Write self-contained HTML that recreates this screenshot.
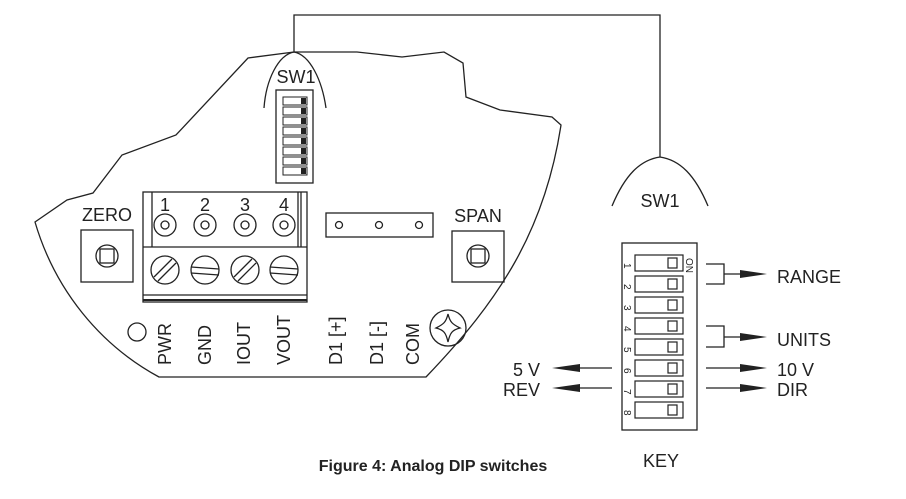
<!DOCTYPE html>
<html><head><style>
html,body{margin:0;padding:0;background:#fff;}
svg{display:block;}
text{font-family:"Liberation Sans Narrow","Liberation Sans",sans-serif;fill:#222;}
.cap{font-family:"Liberation Sans",sans-serif;}
</style></head><body>
<svg width="906" height="499" viewBox="0 0 906 499" xmlns="http://www.w3.org/2000/svg" fill="none" stroke="#222" stroke-width="1.3">
<path d="M159,377 L426,377 C500,300 545,230 561,125 L552,117 L500,110 L466,97 L463,63 L444,52 L402,57 L357,52 L294,52 L248,58 L176,135 L122,155 L93,193 L67,200 L35,222 C55,290 100,345 159,377 Z"/>
<path d="M294,52 L294,15 L660,15 L660,157"/>
<path d="M264,108 C266,80 278,55 294,52 C310,55 322,80 326,108"/>
<text x="296" y="83" font-size="18" stroke="none" text-anchor="middle">SW1</text>
<rect x="276" y="90" width="37" height="93"/>
<g stroke-width="1">
<rect x="283" y="97" width="24" height="8"/><rect x="283" y="107" width="24" height="8"/><rect x="283" y="117" width="24" height="8"/><rect x="283" y="127" width="24" height="8"/>
<rect x="283" y="137" width="24" height="8"/><rect x="283" y="147" width="24" height="8"/><rect x="283" y="157" width="24" height="8"/><rect x="283" y="167" width="24" height="8"/>
</g>
<g fill="#222" stroke="none">
<rect x="301" y="98" width="5" height="6"/><rect x="301" y="108" width="5" height="6"/><rect x="301" y="118" width="5" height="6"/><rect x="301" y="128" width="5" height="6"/>
<rect x="301" y="138" width="5" height="6"/><rect x="301" y="148" width="5" height="6"/><rect x="301" y="158" width="5" height="6"/><rect x="301" y="168" width="5" height="6"/>
</g>
<rect x="143" y="192" width="164" height="110"/>
<line x1="143" y1="247" x2="307" y2="247"/>
<line x1="152" y1="192" x2="152" y2="247"/>
<line x1="298" y1="192" x2="298" y2="247"/>
<line x1="301" y1="192" x2="301" y2="247"/>
<line x1="143" y1="295" x2="307" y2="295"/>
<line x1="143" y1="300" x2="307" y2="300" stroke-width="2"/>
<g font-size="18" stroke="none" text-anchor="middle"><text x="165" y="211">1</text><text x="205" y="211">2</text><text x="245" y="211">3</text><text x="284" y="211">4</text></g>
<circle cx="165" cy="225" r="11"/><circle cx="165" cy="225" r="4"/>
<circle cx="205" cy="225" r="11"/><circle cx="205" cy="225" r="4"/>
<circle cx="245" cy="225" r="11"/><circle cx="245" cy="225" r="4"/>
<circle cx="284" cy="225" r="11"/><circle cx="284" cy="225" r="4"/>
<circle cx="165" cy="270" r="14"/><path d="M154,277 L172,259 M158,281 L176,263"/>
<circle cx="205" cy="270" r="14"/><path d="M191,267 L219,269 M191,273 L219,275"/>
<circle cx="245" cy="270" r="14"/><path d="M234,277 L252,259 M238,281 L256,263"/>
<circle cx="284" cy="270" r="14"/><path d="M270,267 L298,269 M270,273 L298,275"/>
<rect x="326" y="213" width="107" height="24"/>
<circle cx="339" cy="225" r="3.5"/><circle cx="379" cy="225" r="3.5"/><circle cx="419" cy="225" r="3.5"/>
<text x="107" y="221" font-size="18" stroke="none" text-anchor="middle">ZERO</text>
<rect x="81" y="230" width="52" height="52"/><circle cx="107" cy="256" r="11"/><rect x="100" y="249" width="14" height="14"/>
<text x="478" y="222" font-size="18" stroke="none" text-anchor="middle">SPAN</text>
<rect x="452" y="231" width="52" height="51"/><circle cx="478" cy="256" r="11"/><rect x="471" y="249" width="14" height="14"/>
<circle cx="137" cy="332" r="9"/>
<g font-size="18" stroke="none">
<text transform="translate(171,365) rotate(-90)">PWR</text>
<text transform="translate(211,365) rotate(-90)">GND</text>
<text transform="translate(250,365) rotate(-90)">IOUT</text>
<text transform="translate(290,365) rotate(-90)">VOUT</text>
<text transform="translate(342,365) rotate(-90)">D1 [+]</text>
<text transform="translate(383,365) rotate(-90)">D1 [-]</text>
<text transform="translate(419,365) rotate(-90)">COM</text>
</g>
<circle cx="448" cy="328" r="18"/>
<path d="M448,314 C450,322 452,324 460,328 C452,330 450,333 448,342 C446,333 444,330 436,328 C444,324 446,322 448,314 Z"/>
<path d="M612,206 C625,175 640,160 660,157 C680,160 695,175 708,206"/>
<text x="660" y="207" font-size="18" stroke="none" text-anchor="middle">SW1</text>
<rect x="622" y="243" width="75" height="187"/>
<g stroke-width="1.2">
<rect x="635" y="255" width="48" height="16"/><rect x="635" y="276" width="48" height="16"/><rect x="635" y="297" width="48" height="16"/><rect x="635" y="318" width="48" height="16"/>
<rect x="635" y="339" width="48" height="16"/><rect x="635" y="360" width="48" height="16"/><rect x="635" y="381" width="48" height="16"/><rect x="635" y="402" width="48" height="16"/>
<rect x="668" y="258" width="9" height="10"/><rect x="668" y="279" width="9" height="10"/><rect x="668" y="300" width="9" height="10"/><rect x="668" y="321" width="9" height="10"/>
<rect x="668" y="342" width="9" height="10"/><rect x="668" y="363" width="9" height="10"/><rect x="668" y="384" width="9" height="10"/><rect x="668" y="405" width="9" height="10"/>
</g>
<g font-size="10" stroke="none" font-family="Liberation Serif">
<text transform="translate(624,263) rotate(90)">1</text><text transform="translate(624,284) rotate(90)">2</text><text transform="translate(624,305) rotate(90)">3</text><text transform="translate(624,326) rotate(90)">4</text>
<text transform="translate(624,347) rotate(90)">5</text><text transform="translate(624,368) rotate(90)">6</text><text transform="translate(624,389) rotate(90)">7</text><text transform="translate(624,410) rotate(90)">8</text>
<text transform="translate(686,258) rotate(90)">ON</text>
</g>
<path d="M706,264 L724,264 L724,284 L706,284 M724,274 L745,274"/>
<path d="M706,326 L724,326 L724,347 L706,347 M724,337 L745,337"/>
<path d="M706,368 L745,368 M706,388 L745,388 M612,368 L578,368 M612,388 L578,388"/>
<g fill="#222" stroke="none">
<path d="M740,270 L767,274 L740,278 Z"/><path d="M740,333 L767,337 L740,341 Z"/>
<path d="M740,364 L767,368 L740,372 Z"/><path d="M740,384 L767,388 L740,392 Z"/>
<path d="M580,364 L552,368 L580,372 Z"/><path d="M580,384 L552,388 L580,392 Z"/>
</g>
<g font-size="18" stroke="none">
<text x="777" y="283">RANGE</text><text x="777" y="346">UNITS</text>
<text x="777" y="376">10 V</text><text x="777" y="396">DIR</text>
<text x="540" y="376" text-anchor="end">5 V</text><text x="540" y="396" text-anchor="end">REV</text>
<text x="661" y="467" text-anchor="middle">KEY</text>
<text class="cap" x="433" y="471" text-anchor="middle" font-size="16" font-weight="bold" fill="#111">Figure 4: Analog DIP switches</text>
</g>
</svg>
</body></html>
